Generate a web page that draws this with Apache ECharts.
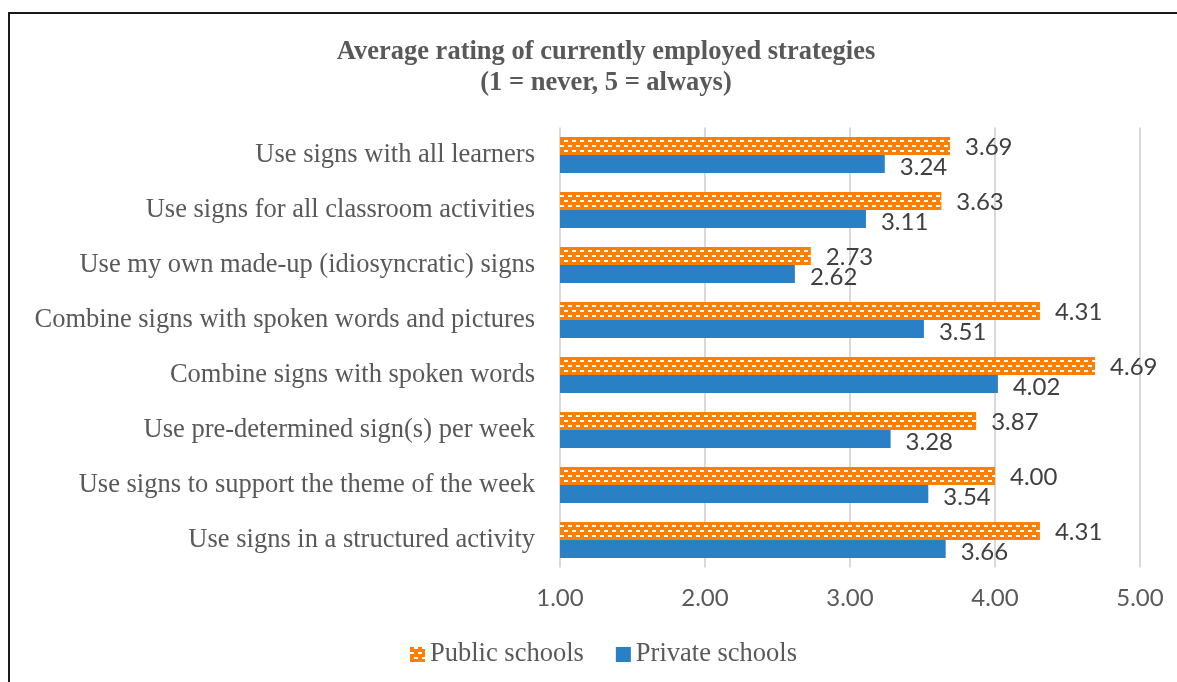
<!DOCTYPE html>
<html>
<head>
<meta charset="utf-8">
<script src="https://cdn.jsdelivr.net/npm/echarts@6/dist/echarts.min.js"></script>
<style>
html,body{margin:0;padding:0;background:#fff;}
#frame{position:absolute;left:8px;top:12px;width:1200px;height:700px;border-left:2px solid #1a1a1a;border-top:2px solid #1a1a1a;}
#chart{position:absolute;left:0;top:0;width:1177px;height:682px;}
</style>
</head>
<body>
<div id="frame"></div>
<div id="chart"></div>
<script>
const categories = [
  "Use signs with all learners",
  "Use signs for all classroom activities",
  "Use my own made-up (idiosyncratic) signs",
  "Combine signs with spoken words and pictures",
  "Combine signs with spoken words",
  "Use pre-determined sign(s) per week",
  "Use signs to support the theme of the week",
  "Use signs in a structured activity"
];
const publicSchools = [3.69, 3.63, 2.73, 4.31, 4.69, 3.87, 4.00, 4.31];
const privateSchools = [3.24, 3.11, 2.62, 3.51, 4.02, 3.28, 3.54, 3.66];
const seriesNames = ["Public schools", "Private schools"];

const chart = echarts.init(document.getElementById('chart'));
const serif = "'Liberation Serif', 'Times New Roman', serif";
const sans = "Lato, 'DejaVu Sans', sans-serif";
const orangeDecal = {
  symbol: 'rect',
  color: '#ffffff',
  dashArrayX: [[4, 4], [0, 4, 4, 0]],
  dashArrayY: [2, 3],
  symbolSize: 1,
  rotation: 0
};
chart.setOption({
  animation: false,
  title: {
    text: "Average rating of currently employed strategies\n(1 = never, 5 = always)",
    left: 601,
    textAlign: 'center',
    top: 32,
    textStyle: {fontFamily: serif, fontSize: 26.5, fontWeight: 'bold', color: '#595959', lineHeight: 31}
  },
  legend: {
    data: seriesNames,
    top: 636,
    left: 405,
    itemWidth: 15,
    itemHeight: 15,
    itemGap: 32,
    icon: 'rect',
    textStyle: {fontFamily: serif, fontSize: 26.5, color: '#595959'}
  },
  grid: {left: 560, right: 37, top: 127.5, bottom: 114.5},
  xAxis: {
    type: 'value',
    min: 1, max: 5, interval: 1,
    axisLine: {show: false},
    axisTick: {show: false},
    splitLine: {lineStyle: {color: '#d9d9d9', width: 2}},
    axisLabel: {formatter: v => v.toFixed(2), fontFamily: sans, fontSize: 24, color: '#595959', margin: 19}
  },
  yAxis: {
    type: 'category',
    data: categories,
    inverse: true,
    axisLine: {show: false},
    axisTick: {show: false},
    axisLabel: {fontFamily: serif, fontSize: 26.5, color: '#595959', margin: 25}
  },
  series: [
    {
      name: seriesNames[0],
      type: 'bar',
      data: publicSchools,
      barWidth: 18,
      barGap: '0%',
      itemStyle: {color: '#FF8000', decal: orangeDecal},
      label: {show: true, position: 'right', distance: 15, offset: [0, 1], formatter: p => p.value.toFixed(2), fontFamily: sans, fontSize: 24, color: '#404040'}
    },
    {
      name: seriesNames[1],
      type: 'bar',
      data: privateSchools,
      barWidth: 18,
      barGap: '0%',
      itemStyle: {color: '#2A80C5'},
      label: {show: true, position: 'right', distance: 15, offset: [0, 3], formatter: p => p.value.toFixed(2), fontFamily: sans, fontSize: 24, color: '#404040'}
    }
  ]
});
</script>
</body>
</html>
